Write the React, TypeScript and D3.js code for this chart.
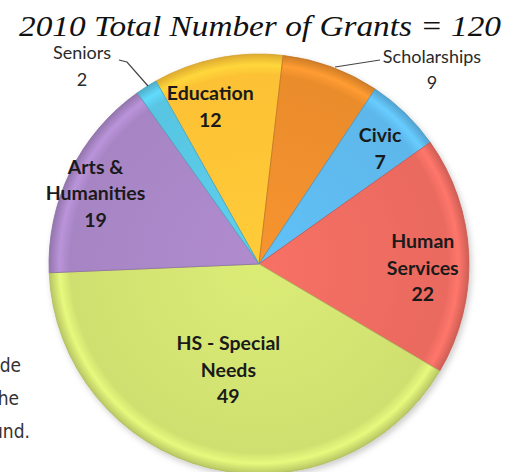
import * as React from 'react';
import * as d3 from 'd3';

const categories: string[] = ['Education', 'Scholarships', 'Civic', 'Human Services', 'HS - Special Needs', 'Arts & Humanities', 'Seniors'];
const grants: number[] = [12, 9, 7, 22, 49, 19, 2];
const sliceColors: string[] = ['#fcc135', '#ea8c2c', '#5db7ea', '#ea6a60', '#d0e070', '#a785c4', '#58c5e2'];
// label lines per slice (inside labels), empty for slices labelled outside
const labelLines: string[][] = [['Education', '12'], [], ['Civic', '7'], ['Human', 'Services', '22'], ['HS - Special', 'Needs', '49'], ['Arts &', 'Humanities', '19'], []];
const title = '2010 Total Number of Grants = 120';

const W = 506;
const H = 472;
const cx = 259;
const cy = 264;
const radius = 210;
const startDeg = -29.4;

// where each inside label sits: fraction of the radius and a small turn off the mid angle (degrees)
const labelRadius: number[] = [0.79, 0, 0.8, 0.78, 0.52, 0.85, 0];
const labelTurn: number[] = [-5.7, 0, 2, 3.4, 2.2, -2.4, 0];

const App: React.FC = () => {
	const pie = d3
		.pie<number>()
		.sort(null)
		.value((d) => d)
		.startAngle((startDeg * Math.PI) / 180)
		.endAngle(((startDeg + 360) * Math.PI) / 180);
	const arcs = pie(grants);
	const arcPath = d3.arc<d3.PieArcDatum<number>>().innerRadius(0).outerRadius(radius);

	const labelFont = "Lato, 'Open Sans', sans-serif";
	const lineGap = 26.5;

	return (
		<svg width={W} height={H} style={{ position: 'absolute', left: 0, top: 0, background: '#fff' }}>
			<defs>
				{sliceColors.map((c, i) => {
					const base = d3.color(c)!;
					return (
						<radialGradient key={i} id={`grad-${i}`} gradientUnits="userSpaceOnUse" cx={0} cy={0} r={radius}>
							<stop offset="0" stopColor={base.brighter(0.15).formatHex()} />
							<stop offset="0.9" stopColor={c} />
							<stop offset="0.95" stopColor={base.brighter(0.3).formatHex()} />
							<stop offset="1" stopColor={base.darker(0.35).formatHex()} />
						</radialGradient>
					);
				})}
				<filter id="shadow" x="-10%" y="-10%" width="120%" height="120%">
					<feDropShadow dx="2" dy="3" stdDeviation="3" floodColor="#000" floodOpacity="0.2" />
				</filter>
			</defs>

			{/* fragments of the surrounding page text */}
			<g fontFamily="'Liberation Sans Narrow', 'DejaVu Sans Condensed', sans-serif" fontSize={19} fill="#333">
				<text x={21} y={372} textAnchor="end">de</text>
				<text x={19} y={405} textAnchor="end">he</text>
				<text x={30} y={438} textAnchor="end">und.</text>
			</g>

			<text
				x={260}
				y={36}
				textAnchor="middle"
				fontFamily="'Liberation Serif', 'DejaVu Serif', serif"
				fontStyle="italic"
				fontSize={30}
				textLength={482}
				lengthAdjust="spacingAndGlyphs"
				fill="#111"
			>
				{title}
			</text>

			<g transform={`translate(${cx},${cy})`} filter="url(#shadow)">
				{arcs.map((a, i) => (
					<path key={categories[i]} d={arcPath(a) || ''} fill={`url(#grad-${i})`} stroke={d3.color(sliceColors[i])!.darker(0.5).formatHex()} strokeWidth={0.8} />
				))}
			</g>

			<g transform={`translate(${cx},${cy})`} fontFamily={labelFont} fontWeight="bold" fontSize={19.5} fill="#1a1a1a" textAnchor="middle">
				{arcs.map((a, i) => {
					const lines = labelLines[i];
					if (!lines.length) return null;
					const mid = (a.startAngle + a.endAngle) / 2 + (labelTurn[i] * Math.PI) / 180;
					const r = radius * labelRadius[i];
					const x = r * Math.sin(mid);
					const y = -r * Math.cos(mid);
					const top = y - ((lines.length - 1) * lineGap) / 2;
					return (
						<text key={categories[i]} x={x} y={top} dominantBaseline="central">
							{lines.map((ln, j) => (
								<tspan key={j} x={x} y={top + j * lineGap}>
									{ln}
								</tspan>
							))}
						</text>
					);
				})}
			</g>

			{/* outside labels with leader lines */}
			<g fontFamily={labelFont} fontSize={18} fill="#2a2a2a" textAnchor="middle">
				<text x={82} y={59}>{categories[6]}</text>
				<text x={82} y={86}>{grants[6]}</text>
				<text x={432} y={63}>{categories[1]}</text>
				<text x={432} y={89}>{grants[1]}</text>
			</g>
			<g fill="none" stroke="#444" strokeWidth={1.2}>
				<polyline points={[[119, 60], [127, 62], [148, 86]].map((p) => p.join(',')).join(' ')} />
				<polyline points={[[335, 67], [380, 60]].map((p) => p.join(',')).join(' ')} />
			</g>
		</svg>
	);
};

export default App;
